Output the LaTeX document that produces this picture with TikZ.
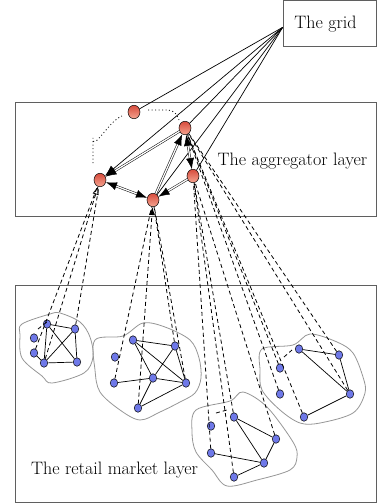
\documentclass[tikz,border=0pt]{standalone}
\usetikzlibrary{arrows.meta,shapes.geometric}
\definecolor{boxgray}{RGB}{95,95,95}
\definecolor{blobgray}{RGB}{150,150,150}
\definecolor{redtop}{RGB}{215,75,60}
\definecolor{redbot}{RGB}{245,165,145}
\definecolor{bluefill}{RGB}{110,120,232}
\begin{document}
\begin{tikzpicture}[x=1pt,y=-1pt,
  lbl/.style={font=\fontsize{18}{21}\selectfont, inner sep=0pt},
  layerbox/.style={draw=boxgray, line width=0.9pt, inner sep=0pt},
  agnode/.style={ellipse, draw=black, line width=0.5pt, minimum width=12pt, minimum height=13.5pt, inner sep=0pt, top color=redtop, bottom color=redbot},
  rnode/.style={ellipse, draw=black, line width=0.5pt, minimum width=7.5pt, minimum height=8.5pt, inner sep=0pt, fill=bluefill},
  gline/.style={line width=0.7pt},
  dbl/.style={line width=0.5pt, double=white, double distance=1.3pt},
  tip/.style={-{Latex[length=11pt,width=8pt]}},
  tips/.style={{Latex[length=11pt,width=8pt]}-{Latex[length=11pt,width=8pt]}},
  dsh/.style={line width=0.8pt, dash pattern=on 4pt off 3pt},
  dot/.style={line width=0.8pt, dash pattern=on 1pt off 2.5pt},
  edge/.style={line width=0.7pt},
  blob/.style={draw=blobgray, line width=0.8pt}
]
\useasboundingbox (0,0) rectangle (377,504);

% layer boxes
\node[layerbox, minimum width=93.5pt, minimum height=45.8pt] (grid) at (329.9,23.3) {};
\node[lbl] (gridtxt) at (325.5,24) {The grid};
\node[layerbox, minimum width=361pt, minimum height=114pt] (agg) at (195.5,159) {};
\node[lbl] (aggtxt) at (292.5,161) {The aggregator layer};
\node[layerbox, minimum width=361pt, minimum height=217pt] (ret) at (195.5,393.5) {};
\node[lbl] (rettxt) at (114.5,470) {The retail market layer};

% blobs
\draw[blob] plot[smooth cycle, tension=0.55] coordinates {(22,324) (50,314) (60,313) (80,322) (90,337) (93,357) (84,373) (52,383) (42,376) (22,358) (20,335)};
\draw[blob] plot[smooth cycle, tension=0.55] coordinates {(95,340) (123,336) (143,323) (165,327) (190,340) (199,358) (201,378) (195,393) (180,402) (160,412) (140,420) (120,410) (100,392) (95,370)};
\draw[blob] plot[smooth cycle, tension=0.55] coordinates {(196,410) (230,401) (243,392) (267,407) (293,442) (297,457) (290,470) (257,480) (227,486) (212,470) (196,452) (192,432)};
\draw[blob] plot[smooth cycle, tension=0.55] coordinates {(262,349) (293,345) (310,334) (337,342) (353,353) (363,377) (365,393) (353,413) (320,423) (300,423) (280,410) (262,390) (260,370)};

% aggregator nodes
\node[agnode] (A1) at (134,112) {};
\node[agnode] (A2) at (185,128) {};
\node[agnode] (A3) at (100,180) {};
\node[agnode] (A4) at (153,200) {};
\node[agnode] (A5) at (193,176) {};

% retail nodes
\foreach \n/\p in {n1a/{(47,324)}, n1b/{(75,329)}, n1c/{(34,338)}, n1d/{(34,353)}, n1e/{(44,363)}, n1f/{(77,362)},
  n2a/{(133,340)}, n2b/{(175,346)}, n2c/{(115,357)}, n2d/{(114,383)}, n2e/{(153,378)}, n2f/{(186,383)}, n2g/{(138,408)},
  n3a/{(211,426)}, n3b/{(234,417)}, n3c/{(276,439)}, n3d/{(211,453)}, n3e/{(264,463)}, n3f/{(234,477)},
  n4a/{(299,349)}, n4b/{(339,355)}, n4c/{(280,368)}, n4d/{(280,394)}, n4e/{(350,394)}, n4f/{(304,417)}}
  \node[rnode] (\n) at \p {};

% grid connectors
\coordinate (gp) at ([yshift=-4pt]grid.west);
\draw[gline] (gp) -- (A1);
\draw[gline, tip] (gp) -- (A3);
\draw[gline] (gp) -- (A2);
\draw[gline] (gp) -- (A4);
\draw[gline] (gp) -- (A5);

% aggregator double links
\draw[dbl, tip] (A2) -- (A3);
\draw[dbl, tips] (A3) -- (A4);
\draw[dbl, tip] (A4) -- (A2);
\draw[dbl, tips] (A5) -- (A2);
\draw[dbl, tip] (A5) -- (A4);

% dotted path around A1
\coordinate (d1) at (93,163);
\coordinate (d2) at (93,138);
\coordinate (d3) at (122,116);
\coordinate (d4) at (148,110);
\coordinate (d5) at (168,110);
\coordinate (d6) at (179,120);
\draw[dot] (d1) -- (d2) to[out=-90,in=200] (d3);
\draw[dot] (d4) -- (d5) to[out=0,in=110] (d6);

% dashed links retail -> aggregator
\draw[dsh, -{Triangle[open,length=8pt,width=6pt]}] (n1e) -- (A3);
\draw[dsh] (n1d) -- (A3);
\draw[dsh] (n1b) -- (A3);
\draw[dsh, -{Latex[length=8pt,width=6pt]}] (n2g) -- (A4);
\draw[dsh] (n2d) -- (A4);
\draw[dsh] (n2b) -- (A4);
\draw[dsh] (n2f) -- (A4);
\draw[dsh] (n3d) -- (A5);
\draw[dsh] (n3f) -- (A5);
\draw[dsh] (n3b) -- (A5);
\draw[dsh] (n3c) -- (A5);
\draw[dsh] (n4c) -- (A2);
\draw[dsh] (n4d) -- (A2);
\draw[dsh] (n4f) -- (A2);
\draw[dsh] (n4b) -- (A2);
\draw[dsh] (n4e) -- (A2);

% short dotted marks in clusters
\coordinate (c1s) at (38,329); \coordinate (c1e) at (47,322);
\coordinate (c3s) at (216,413); \coordinate (c3e) at (227,410);
\coordinate (c4s) at (284,357); \coordinate (c4e) at (292,350);
\draw[dsh] (c1s) -- (c1e);
\draw[dsh] (c3s) -- (c3e);
\draw[dsh] (c4s) -- (c4e);

% cluster edges
\draw[edge] (n1a) -- (n1b) (n1a) -- (n1e) (n1a) -- (n1f) (n1b) -- (n1e) (n1b) -- (n1f) (n1e) -- (n1f) (n1d) -- (n1e);
\draw[edge] (n2a) -- (n2b) (n2a) -- (n2e) (n2a) -- (n2f) (n2b) -- (n2e) (n2b) -- (n2f) (n2e) -- (n2f) (n2d) -- (n2e) (n2e) -- (n2g) (n2g) -- (n2f);
\draw[edge] (n3b) -- (n3c) (n3b) -- (n3e) (n3c) -- (n3e) (n3d) -- (n3e) (n3e) -- (n3f);
\draw[edge] (n4a) -- (n4b) (n4a) -- (n4e) (n4b) -- (n4e) (n4e) -- (n4f);
\end{tikzpicture}
\end{document}
